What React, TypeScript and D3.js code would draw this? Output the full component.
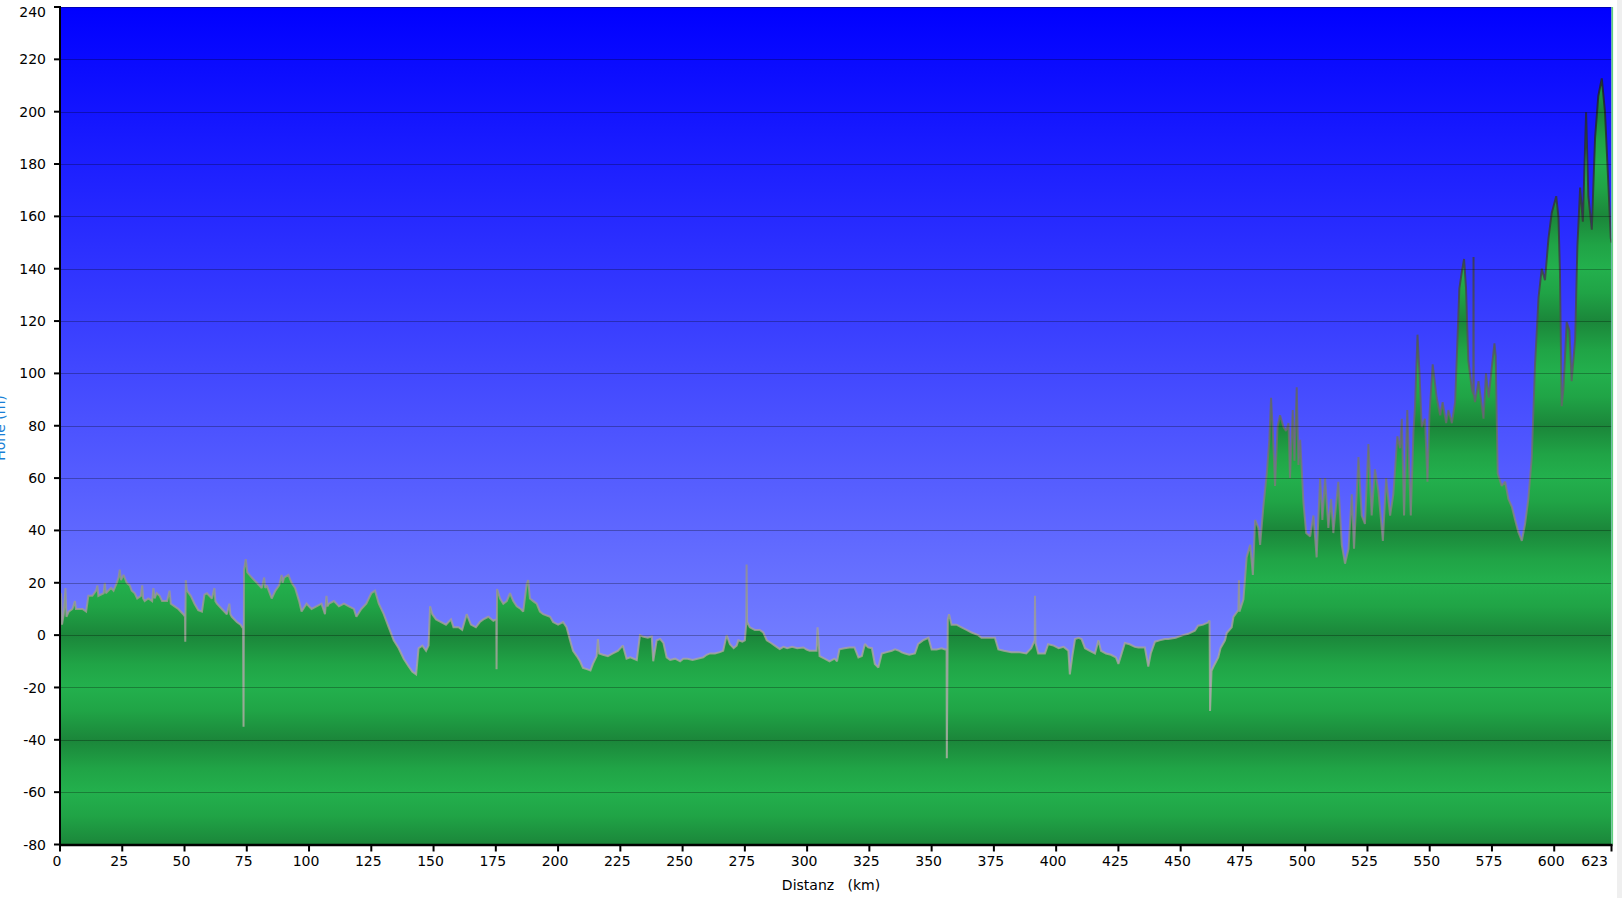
import React from "react";
import * as d3 from "d3";

// Elevation profile: [distance km, elevation m]
const profileA: [number, number][] = [
  [0, 2], [0.4, 16], [0.8, 4], [1.5, 8], [2.2, 18], [2.6, 7], [3.5, 9], [5, 10], [6, 13], [6.4, 10], [9, 10],
  [10.5, 9], [11.4, 15], [13, 15], [14.5, 17], [15, 19], [15.4, 15], [17.5, 16], [18, 20], [18.4, 16], [20.5, 18], [21.5, 17],
  [22.8, 20], [23.5, 22], [24, 25], [24.5, 21], [25.5, 23], [26.8, 20], [28, 19], [28.8, 17], [30, 16], [31, 14],
  [32.5, 15], [33, 19], [33.4, 14], [34, 13], [35.5, 14], [37, 13], [37.5, 18], [38, 14], [38.8, 16], [40, 15], [41, 13], [43, 13], [44, 17], [44.5, 12],
  [46, 11], [47.5, 10], [49.5, 8], [50.2, 7], [50.3, -2.5], [50.5, 21], [51, 17], [52.5, 15], [54, 12],
  [55.5, 9.5], [57, 9], [58, 15.5], [59, 16], [61, 14], [62, 18], [62.4, 13], [63, 12], [65, 10], [67, 8], [68, 12], [68.4, 8], [69, 7], [71, 5],
  [72.5, 4], [73.5, 2.5], [73.7, -35], [73.9, 25], [74.6, 29], [75.2, 24], [77, 22], [79, 20], [81, 18],
  [82, 22], [82.4, 18], [83, 19], [85, 14], [86.5, 17], [88, 19], [89, 23], [89.4, 20], [90, 22], [91.7, 23], [93, 20], [94.4, 18], [96, 13], [97, 9],
  [99, 12], [101, 10], [103, 11], [105, 12], [106.4, 8], [107, 15], [107.4, 11], [108, 12], [110, 13], [112, 11], [114, 12],
  [116, 11], [118, 10], [119, 7], [121, 10], [123, 12], [125, 16], [126.5, 17], [128, 12], [130, 8],
  [132, 3], [134, -2], [136, -5], [138, -9], [140, -12], [141.5, -14], [143, -15], [144, -5], [145.5, -4],
  [147, -6], [148, -4], [148.6, 11], [149.5, 8], [151, 6], [153, 5], [155, 4], [157, 6], [158, 3],
];

const profileB: [number, number][] = [
  [160, 3], [161.5, 2], [163.3, 8], [165, 4], [167, 3], [168.6, 5], [170, 6], [172, 7], [174, 5.5],
  [175.2, 6], [175.3, -13], [175.5, 17.6], [176.7, 14], [178, 12], [179.4, 13], [180.7, 16], [182, 13],
  [183.4, 11], [185, 10], [186, 9], [187.4, 19.5], [188, 21], [188.7, 14], [190, 13], [191.4, 12],
  [192.7, 9], [194, 8], [196.8, 7], [198, 5], [200, 4], [202, 5], [203.4, 3], [204.8, -2], [206, -6],
  [207.5, -8], [208.8, -10], [210, -12.5], [211.5, -13], [213, -13.5], [214, -11], [215.5, -8],
  [216, -1.5], [216.5, -7], [218, -7.5], [220, -8], [222, -7], [224, -6], [226, -4], [227.5, -9],
  [229, -8.5], [231.6, -9.5], [232.9, 0], [234, -0.5], [236, -1], [237.6, -0.5], [238.2, -10],
  [239.6, -2], [241, -1.5], [242.3, -3], [243.6, -8.5], [245, -9.5], [247, -9], [249, -10], [250.3, -9],
  [252, -9], [254, -9.5], [256, -9], [258.3, -8.5], [259.7, -7.5], [261, -7], [263, -7], [265, -6.5],
  [266.3, -6], [267.7, 0], [269, -3.5], [270.5, -5], [271.7, -4], [272.4, -2], [274, -2.5], [275, -2],
  [275.6, 5], [275.7, 27], [275.9, 5], [277, 3], [279, 2], [281, 2], [282.4, 1], [283.8, -2],
  [285.5, -3], [287, -4], [289, -5.3], [290.5, -4.5], [292, -5], [294, -4.5], [296, -5], [298.5, -4.7],
  [299.8, -5.5], [301, -6], [303.8, -6], [304.2, 3], [305, -8], [307, -9], [309, -10], [311, -9],
  [312, -10], [313, -5.4], [315, -5], [317, -4.7],
];

const profileC: [number, number][] = [
  [319, -4.7], [320.6, -8.5], [322, -8], [323.2, -3.4], [324.5, -4.7], [326, -5], [327.2, -11],
  [328.6, -12.4], [330, -7], [332, -6.5], [334, -6], [335.3, -5.4], [337, -6], [338, -6.6], [339.3, -7],
  [341, -7.5], [343.3, -7], [344.6, -3.4], [346.5, -2], [348.7, -1], [350, -5.5], [352, -5.5],
  [354, -5], [355.4, -5.5], [356, -5.5], [356.1, -47], [356.5, 6], [357, 8], [358, 4], [360, 4],
  [362, 3], [364, 2], [366, 1], [368.7, 0], [370, -1], [372, -1], [375.4, -1], [376.8, -5.5], [379, -6],
  [382, -6.5], [385, -6.5], [388, -7], [390, -5], [391.4, -2], [391.5, 15], [391.7, -3], [392.8, -7],
  [394, -7], [395.5, -7], [396.8, -3.5], [399, -4], [401, -5], [403, -4.5], [404.9, -6], [405.5, -15],
  [406.5, -8], [407.6, -1.5], [409, -1], [410.2, -1.5], [411.6, -5], [413.5, -6], [415.6, -7], [417, -2],
  [418, -6], [420, -7], [422, -7.5], [424, -8.5], [425, -11], [426, -8], [427.6, -3], [429.5, -3.5],
  [431.6, -4.5], [433, -4.7], [435.6, -4.7], [437, -12], [438, -7], [439.7, -2.5], [441.5, -2],
  [443.7, -1.5], [445, -1.5], [448, -1], [451, 0], [453, 0.5], [455.7, 1.7], [457, 3.6], [459, 4],
  [461, 4.8], [461.6, 5.6], [461.8, -29], [462.4, -13.6], [463.2, -12], [465.1, -8.5], [466, -5],
  [467.8, -2], [468.5, 0.8], [470.5, 3], [471.2, 7], [473.2, 9.6], [473.4, 21], [473.6, 9],
  [475.2, 13.6], [476.5, 29.7],
];

const profileD: [number, number][] = [
  [477.9, 34.5], [479, 23], [479.9, 44], [481.2, 41], [481.9, 34.5], [483.2, 49], [484.6, 62],
  [485.6, 74.6], [486.3, 90.7], [487, 78], [487.9, 57], [488.9, 79.5], [489.9, 84], [491.3, 79.5],
  [492.3, 78], [493.3, 81], [493.9, 60], [495, 86], [495.7, 66.6], [496.6, 94.7], [497.3, 65],
  [498, 74.6], [499.3, 50.6], [500.4, 39], [502, 37.7], [503.3, 45.7], [504.6, 29.7], [506, 60],
  [506.9, 44], [508, 60], [509.3, 41], [510.4, 52], [511.3, 39], [513.3, 58.6], [514.7, 34.5],
  [516, 27.3], [517.4, 33], [518.7, 53.8], [519.6, 33], [521.4, 68], [522.7, 45.7], [524, 42.5],
  [525.4, 73], [526.7, 45.7], [528, 63.4], [529.4, 55], [531.2, 36], [532.5, 60], [534.1, 45.7],
  [535.4, 53.8], [537, 76], [538.1, 71.4], [538.8, 82.7], [539.7, 45.7], [541, 86], [542.4, 45.7],
  [543.5, 78], [544.1, 87.5], [545.1, 114.8], [545.9, 100], [546.8, 79.5], [548.1, 82.7], [549.1, 58.6],
  [549.9, 84], [551.2, 103.5], [552.8, 90.7], [554.2, 84], [555.2, 89], [556.6, 81], [557.5, 86],
  [558.9, 81], [560.2, 89], [560.9, 106.7], [561.9, 132.4], [562.9, 138.8], [563.8, 143.7],
  [564.6, 132.4], [565.5, 105], [566.9, 94], [567.5, 92], [567.6, 144.5], [567.7, 92], [568.2, 89],
  [569.6, 97], [570.5, 90.7], [571.6, 82.7], [572.6, 100], [573.7, 90.7], [574.9, 102], [576, 111.5],
  [576.5, 106.7], [577.3, 61.8], [578.9, 57], [580.3, 58.6], [581.6, 52], [583, 49], [584.3, 44],
  [585.6, 39.3], [587, 36], [588.3, 42.5], [589.6, 52], [591, 68], [592.3, 103.5], [593.7, 129],
  [595, 140], [596.3, 135.6], [597.7, 151.7], [599, 161.3], [600.8, 167.7], [601.7, 159.7],
  [602.3, 138.8], [603, 87.5], [603.7, 94], [605, 119.6], [606.1, 116.4], [607, 97], [608.4, 113],
  [609.3, 148.5], [610.4, 171], [611.5, 158], [612.8, 199.8], [613.7, 167.7], [615.1, 154.9],
  [616.4, 190], [617.7, 206], [619.1, 212.7], [620.4, 199.8], [621.8, 171], [622.7, 151.7], [623, 150],
];

const yTicks = [-80, -60, -40, -20, 0, 20, 40, 60, 80, 100, 120, 140, 160, 180, 200, 220, 240];
const xTicks = [0, 25, 50, 75, 100, 125, 150, 175, 200, 225, 250, 275, 300, 325, 350, 375, 400, 425, 450, 475, 500, 525, 550, 575, 600, 623];
const xTitle = "Distanz   (km)";
const yTitle = "Höhe (m)";

const W = 1622;
const H = 898;
const L = 60;
const R = 1611.5;
const T = 7;
const B = 844.5;

export default function App() {
  const data = [...profileA, ...profileB, ...profileC, ...profileD];
  const x = d3.scaleLinear().domain([0, 623]).range([L, R]);
  const y = d3.scaleLinear().domain([-80, 240]).range([B, T]);
  const area = d3
    .area<[number, number]>()
    .x((d) => x(d[0]))
    .y0(B)
    .y1((d) => y(d[1]));
  const line = d3
    .line<[number, number]>()
    .x((d) => x(d[0]))
    .y((d) => y(d[1]));
  const font = "'DejaVu Sans', Verdana, sans-serif";
  const xMax = xTicks[xTicks.length - 1];
  const yMax = yTicks[yTicks.length - 1];

  return (
    <svg
      width={W}
      height={H}
      style={{ position: "absolute", left: 0, top: 0, background: "#fff" }}
    >
      <defs>
        <linearGradient id="sky" gradientUnits="userSpaceOnUse" x1={0} y1={T} x2={0} y2={B}>
          <stop offset="0" stopColor="#0000ff" />
          <stop offset="1" stopColor="#97a5ff" />
        </linearGradient>
        <linearGradient
          id="bands"
          gradientUnits="userSpaceOnUse"
          spreadMethod="reflect"
          x1={0}
          y1={y(0)}
          x2={0}
          y2={y(20)}
        >
          <stop offset="0" stopColor="#1b863a" />
          <stop offset="0.55" stopColor="#20a446" />
          <stop offset="1" stopColor="#23b04d" />
        </linearGradient>
        <linearGradient id="edge" gradientUnits="userSpaceOnUse" x1={0} y1={T} x2={0} y2={B}>
          <stop offset="0" stopColor="#151515" />
          <stop offset="0.3" stopColor="#3c3c3c" />
          <stop offset="0.55" stopColor="#7a7676" />
          <stop offset="0.75" stopColor="#a8a49a" />
          <stop offset="1" stopColor="#c0bcb4" />
        </linearGradient>
        <clipPath id="plotClip">
          <rect x={L} y={T} width={R - L} height={B - T} />
        </clipPath>
      </defs>

      <rect x={L} y={T} width={R - L} height={B - T} fill="url(#sky)" />
      <g clipPath="url(#plotClip)">
        <path d={area(data) || ""} fill="url(#bands)" />
        <path
          d={line(data) || ""}
          fill="none"
          stroke="url(#edge)"
          strokeWidth={2}
          strokeOpacity={0.8}
          strokeLinejoin="miter"
          strokeMiterlimit={2}
        />
        {yTicks.map((t) => (
          <line
            key={"g" + t}
            x1={L}
            x2={R}
            y1={Math.round(y(t)) + 0.5}
            y2={Math.round(y(t)) + 0.5}
            stroke="#000"
            strokeOpacity={0.28}
          />
        ))}
      </g>
      <line x1={R + 0.8} x2={R + 0.8} y1={T} y2={B} stroke="#5fd07c" strokeWidth={1.6} />
      <rect x={1617} y={0} width={5} height={H} fill="#efefef" />

      {/* Y axis */}
      <line x1={L} x2={L} y1={T - 1} y2={B + 1} stroke="#000" strokeWidth={2} />
      {yTicks.map((t) => (
        <g key={"y" + t}>
          <line x1={L - 6} x2={L} y1={y(t)} y2={y(t)} stroke="#000" strokeWidth={2} />
          <text
            x={L - 14}
            y={t === yMax ? y(t) + 5 : y(t)}
            dy="0.36em"
            textAnchor="end"
            fontFamily={font}
            fontSize={14}
            fill="#000"
          >
            {t}
          </text>
        </g>
      ))}

      {/* X axis */}
      <line x1={L - 1} x2={R + 1} y1={B + 0.5} y2={B + 0.5} stroke="#000" strokeWidth={2.5} />
      {xTicks.map((t) => (
        <g key={"x" + t}>
          <line x1={x(t)} x2={x(t)} y1={B} y2={B + 7} stroke="#000" strokeWidth={2} />
          <text
            x={t === xMax ? 1608 : x(t) - 3}
            y={866}
            textAnchor={t === xMax ? "end" : "middle"}
            fontFamily={font}
            fontSize={14}
            fill="#000"
          >
            {t}
          </text>
        </g>
      ))}
      <text
        x={831}
        y={890}
        textAnchor="middle"
        fontFamily={font}
        fontSize={14}
        fill="#000"
        style={{ whiteSpace: "pre" }}
      >
        {xTitle}
      </text>
      <text
        transform={`translate(5, ${428}) rotate(-90)`}
        textAnchor="middle"
        fontFamily={font}
        fontSize={14}
        fill="#1a7fd6"
      >
        {yTitle}
      </text>
    </svg>
  );
}
